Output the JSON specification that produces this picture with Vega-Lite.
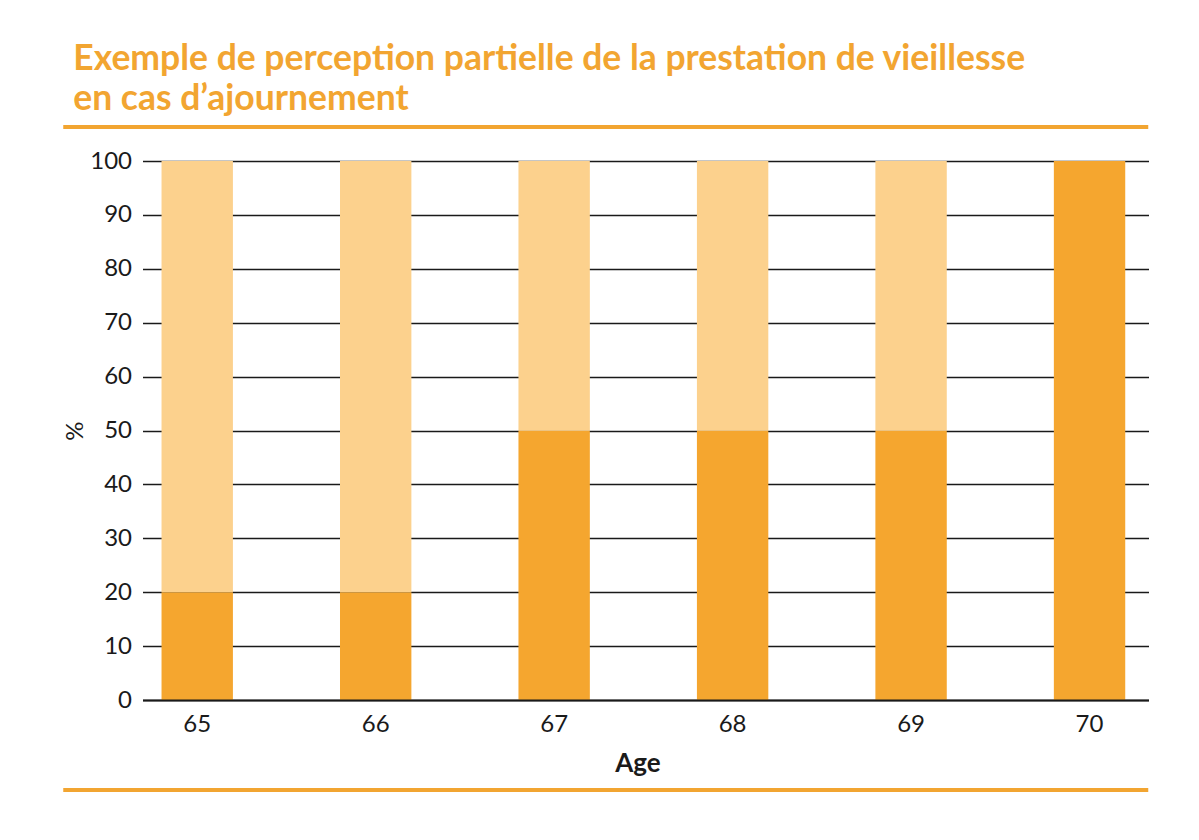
{
  "$schema": "https://vega.github.io/schema/vega-lite/v6.json",
  "background": "white",
  "padding": {"left": 61, "top": 41, "right": 0, "bottom": 20},
  "title": {
    "text": ["Exemple de perception partielle de la prestation de vieillesse", "en cas d’ajournement"],
    "anchor": "start",
    "frame": "bounds",
    "dx": 12,
    "font": "Lato",
    "fontSize": 35.5,
    "fontWeight": "bold",
    "color": "#F2A531",
    "lineHeight": 40,
    "offset": 8
  },
  "config": {"view": {"stroke": null}, "font": "Lato"},
  "center": true,
  "spacing": 12,
  "vconcat": [
    {
      "width": 1085,
      "height": 10,
      "data": {"values": [{}]},
      "mark": {"type": "rule", "color": "#F2A531", "strokeWidth": 4},
      "encoding": {
        "y": {
          "datum": 1,
          "type": "quantitative",
          "scale": {"domain": [0, 1]},
          "axis": {"orient": "right", "title": null, "labels": false, "domain": false, "grid": false, "ticks": true, "tickSize": 79, "tickColor": "white", "values": [1]}
        }
      }
    },
    {
      "width": 1006,
      "height": 539,
      "data": {
        "values": [
          {"age": "65", "part": "Perçue", "value": 20},
          {"age": "65", "part": "Ajournée", "value": 80},
          {"age": "66", "part": "Perçue", "value": 20},
          {"age": "66", "part": "Ajournée", "value": 80},
          {"age": "67", "part": "Perçue", "value": 50},
          {"age": "67", "part": "Ajournée", "value": 50},
          {"age": "68", "part": "Perçue", "value": 50},
          {"age": "68", "part": "Ajournée", "value": 50},
          {"age": "69", "part": "Perçue", "value": 50},
          {"age": "69", "part": "Ajournée", "value": 50},
          {"age": "70", "part": "Perçue", "value": 100},
          {"age": "70", "part": "Ajournée", "value": 0}
        ]
      },
      "mark": {"type": "bar"},
      "encoding": {
        "x": {
          "field": "age",
          "type": "ordinal",
          "scale": {"paddingInner": 0.6, "paddingOuter": 0.1185, "align": 0.45},
          "axis": {
            "title": "Age",
            "titleX": 495,
            "labelAngle": 0,
            "labelFontSize": 24,
            "labelPadding": 12,
            "labelColor": "#1a1a1a",
            "ticks": false,
            "domain": true,
            "domainColor": "#1a1a1a",
            "domainWidth": 2,
            "titleFontSize": 26,
            "titleFontWeight": "bold",
            "titleColor": "#1a1a1a",
            "titlePadding": 14,
            "zindex": 1
          }
        },
        "y": {
          "field": "value",
          "type": "quantitative",
          "stack": "zero",
          "scale": {"domain": [0, 100]},
          "axis": {
            "title": "%",
            "values": [0, 10, 20, 30, 40, 50, 60, 70, 80, 90, 100],
            "grid": true,
            "gridColor": "#1a1a1a",
            "gridWidth": 1.5,
            "domain": false,
            "ticks": false,
            "labelFontSize": 24,
            "labelPadding": 11,
            "labelColor": "#1a1a1a",
            "titleFontSize": 24,
            "titleFontWeight": "normal",
            "titleColor": "#1a1a1a",
            "titlePadding": 2
          }
        },
        "color": {
          "field": "part",
          "type": "nominal",
          "scale": {"domain": ["Perçue", "Ajournée"], "range": ["#F5A62F", "#FCD18D"]},
          "legend": null
        },
        "order": {"field": "part", "sort": "descending"}
      }
    },
    {
      "width": 1085,
      "height": 10,
      "data": {"values": [{}]},
      "mark": {"type": "rule", "color": "#F2A531", "strokeWidth": 4},
      "encoding": {
        "y": {
          "datum": 1,
          "type": "quantitative",
          "scale": {"domain": [0, 1]},
          "axis": {"orient": "right", "title": null, "labels": false, "domain": false, "grid": false, "ticks": true, "tickSize": 79, "tickColor": "white", "values": [1]}
        }
      }
    }
  ]
}
